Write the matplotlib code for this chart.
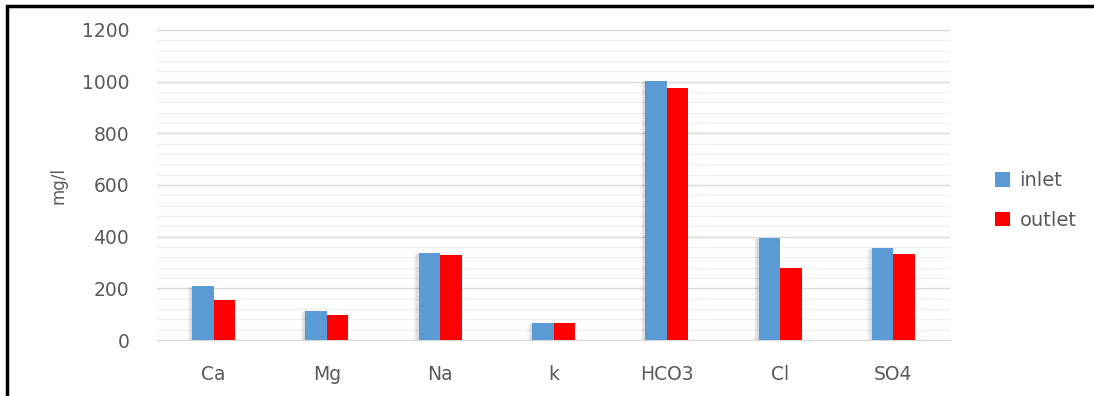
import numpy as np
import matplotlib.pyplot as plt
from matplotlib.patches import Rectangle

ions = ['Ca', 'Mg', 'Na', 'k', 'HCO3', 'Cl', 'SO4']
inlet = [209, 113, 338, 66, 1003, 396, 357]
outlet = [154, 98, 329, 66, 974, 279, 334]

plt.rcParams['font.family'] = ['DejaVu Sans']

fig = plt.figure(figsize=(10.94, 3.96), dpi=100)
ax = fig.add_axes([157/1094, 1 - 340/396, (950-157)/1094, 310/396])

x = np.arange(len(ions))
w = 0.19

# soft shadow behind bars
for k in range(4):
    off = 0.01 * (k + 1)
    ax.bar(x - w/2 - off, np.array(inlet) - 2*k, w, color='black', alpha=0.04, zorder=2, linewidth=0)

ax.bar(x - w/2, inlet, w, color='#5b9bd5', label='inlet', zorder=3)
ax.bar(x + w/2, outlet, w, color='#ff0000', label='outlet', zorder=3)

ax.set_xlim(-0.5, len(ions) - 0.5)
ax.set_ylim(0, 1200)
ax.set_yticks(np.arange(0, 1201, 200))
ax.set_yticks(np.arange(0, 1201, 40), minor=True)
ax.grid(axis='y', which='major', color='#d9d9d9', linewidth=1, zorder=0)
ax.grid(axis='y', which='minor', color='#f0f0f0', linewidth=1, zorder=0)
ax.set_xticks(x)
ax.set_xticklabels(ions)

for s in ['top', 'right', 'left']:
    ax.spines[s].set_visible(False)
ax.spines['bottom'].set_color('#d9d9d9')
ax.tick_params(axis='both', which='both', length=0, labelsize=13.5, colors='#595959')
ax.tick_params(axis='y', pad=20)
ax.tick_params(axis='x', pad=18)
ax.set_ylabel('mg/l', fontsize=12, color='#595959', labelpad=10)

ax.legend(loc='center left', bbox_to_anchor=(1.035, 0.45), frameon=False,
          fontsize=14, labelcolor='#595959', handlelength=0.75, handleheight=0.75,
          handletextpad=0.5, labelspacing=1.05)

# outer frame
fig.patches.append(Rectangle((7/1094, -0.1), 1.2, 1 - 6/396 + 0.1, transform=fig.transFigure,
                             fill=False, edgecolor='black', linewidth=2.5))

fig.savefig('out.png', dpi=100)
